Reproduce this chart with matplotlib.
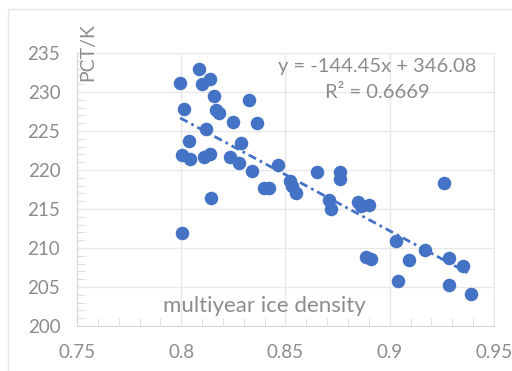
import numpy as np
import matplotlib.pyplot as plt
from matplotlib.ticker import MultipleLocator
from matplotlib.patches import Rectangle

plt.rcParams['font.family'] = ['Lato', 'DejaVu Sans']

# multiyear ice density vs PCT (K)
density = [0.7995, 0.8085, 0.8098, 0.8136, 0.8155, 0.8011, 0.8168, 0.8180,
           0.8325, 0.8247, 0.8365, 0.8117, 0.8035, 0.8287, 0.8003, 0.8043,
           0.8107, 0.8136, 0.8236, 0.8276, 0.8338, 0.8465, 0.8396, 0.8421,
           0.8521, 0.8532, 0.8548, 0.8649, 0.8761, 0.8761, 0.8708, 0.8716,
           0.8849, 0.8860, 0.8900, 0.9029, 0.8885, 0.8909, 0.9090, 0.9170,
           0.9040, 0.9261, 0.9285, 0.9350, 0.9285, 0.9389, 0.8003, 0.8143]
pct = [231.2, 233.0, 231.0, 231.7, 229.5, 227.8, 227.7, 227.3,
       229.0, 226.1, 226.0, 225.3, 223.7, 223.4, 221.9, 221.4,
       221.7, 222.1, 221.7, 220.9, 219.9, 220.7, 217.7, 217.7,
       218.6, 217.9, 217.1, 219.7, 219.8, 218.8, 216.2, 215.0,
       215.9, 215.4, 215.5, 210.9, 208.8, 208.6, 208.5, 209.7,
       205.8, 218.3, 208.7, 207.7, 205.2, 204.1, 211.9, 216.4]

xticks = [0.75, 0.8, 0.85, 0.9, 0.95]
xtick_labels = ['0.75', '0.8', '0.85', '0.9', '0.95']
yticks = [200, 205, 210, 215, 220, 225, 230, 235]

equation = "y = -144.45x + 346.08"
r2_label = "R² = 0.6669"

blue = '#4472C4'
txt = '#8c8c8c'

fig = plt.figure(figsize=(5.12, 3.71), dpi=100)
fig.patches.append(Rectangle((8/512, -0.01), 1.0, 1 - 9/371 + 0.01,
                             transform=fig.transFigure, fill=False,
                             edgecolor='#e6e6e6', linewidth=1))
ax = fig.add_axes([77/512, 1 - 326/371, (494 - 77)/512, (326 - 53)/371])

ax.scatter(density, pct, s=95, color=blue, zorder=3, linewidths=0)

# linear trendline
k, b = np.polyfit(density, pct, 1)
xs = np.array([min(density), max(density)])
ax.plot(xs, k*xs + b, color=blue, lw=2, linestyle=(0, (3, 1.5, 1, 1.5)), zorder=4)

ax.set_xticks(xticks, xtick_labels)
ax.set_yticks(yticks)
ax.set_xlim(0.75, 0.95)
ax.set_ylim(200, 235)
ax.xaxis.set_minor_locator(MultipleLocator(0.01))
ax.yaxis.set_minor_locator(MultipleLocator(1))

ax.grid(True, which='major', color='#e8e8e8', lw=1)
ax.set_axisbelow(True)
for s in ax.spines.values():
    s.set_color('#e8e8e8')
ax.spines['left'].set_color('#d9d9d9')
ax.spines['bottom'].set_color('#d9d9d9')
ax.tick_params(which='major', length=0, labelsize=13.5, labelcolor=txt)
ax.tick_params(axis='x', which='major', pad=13)
ax.tick_params(axis='y', which='major', pad=12)
ax.tick_params(which='minor', direction='in', length=6, color='#d9d9d9')

ax.text(0.72, 0.95, equation, transform=ax.transAxes, ha='center', va='center',
        fontsize=14.5, color=txt)
ax.text(0.72, 0.855, r2_label, transform=ax.transAxes, ha='center', va='center',
        fontsize=14.5, color=txt)
fig.text(88/512, 1 - 52/371, 'PCT/K', rotation=90, ha='center', va='center',
         fontsize=14, color=txt)
fig.text(264/512, 1 - 306/371, 'multiyear ice density', ha='center', va='center',
         fontsize=16, color=txt)

fig.savefig('out.png', dpi=100)
